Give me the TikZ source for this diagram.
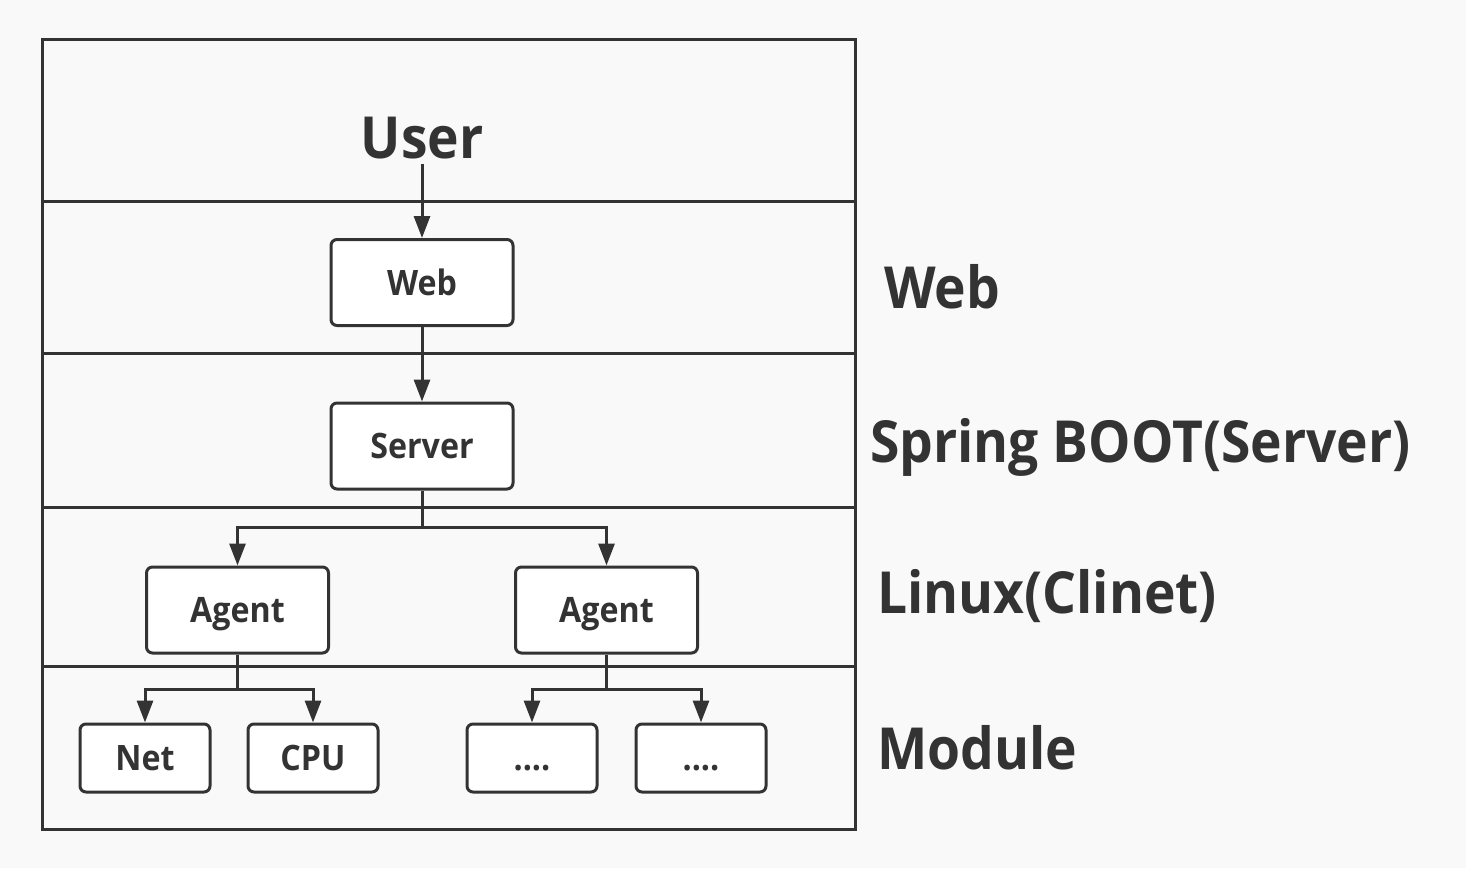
\documentclass[tikz,border=0pt]{standalone}
\usepackage{fontspec}
\setmainfont{Open Sans}[BoldFeatures={FakeStretch=0.92}]
\usetikzlibrary{arrows.meta}
\definecolor{ink}{HTML}{333333}
\definecolor{bg}{HTML}{F9F9F9}
\begin{document}
\begin{tikzpicture}[x=1pt,y=-1pt,
  frame/.style={draw=ink,line width=3pt},
  box/.style={draw=ink,fill=white,line width=3pt,rounded corners=6pt,inner sep=0pt,
    text height=25pt,text depth=0pt,font=\fontsize{35}{40}\selectfont\bfseries,text=ink},
  bigbox/.style={box,minimum width=182pt,minimum height=86pt},
  smallbox/.style={box,minimum width=130pt,minimum height=68pt},
  lbl/.style={inner sep=0pt,text=ink,font=\fontsize{58}{66}\selectfont\bfseries},
  arr/.style={draw=ink,line width=3pt,-{Triangle[length=22pt,width=16pt]}},
  ln/.style={draw=ink,line width=3pt}
]
\fill[bg] (0,0) rectangle (1466,868);
\useasboundingbox (0,0) rectangle (1466,868);
% frame
\draw[frame] (42,39) rectangle (855,829);
\draw[frame] (42,201) -- (855,201);
\draw[frame] (42,353) -- (855,353);
\draw[frame] (42,507) -- (855,507);
\draw[frame] (42,666) -- (855,666);
% user
\node[lbl,anchor=base] (user) at (422,158) {User};
% boxes
\node[bigbox] (web) at (422,282.5) {Web};
\node[bigbox] (server) at (422,446) {Server};
\node[bigbox] (a1) at (237.5,610) {Agent};
\node[bigbox] (a2) at (606.5,610) {Agent};
\node[smallbox] (net) at (145,758) {Net};
\node[smallbox] (cpu) at (313,758) {CPU};
\node[smallbox] (m3) at (532,758) {....};
\node[smallbox] (m4) at (701,758) {....};
% connectors
\draw[arr] ([yshift=-5pt]user.south) -- (web.north);
\draw[arr] (web.south) -- (server.north);
\draw[arr] (server.south) -- ([yshift=-37pt]server.south) -| (a1.north);
\draw[arr] ([yshift=-37pt]server.south) -| (a2.north);
\draw[arr] (a1.south) -- ([yshift=-35pt]a1.south) -| (net.north);
\draw[arr] ([yshift=-35pt]a1.south) -| (cpu.north);
\draw[arr] (a2.south) -- ([yshift=-35pt]a2.south) -| (m3.north);
\draw[arr] ([yshift=-35pt]a2.south) -| (m4.north);
% right labels
\node[lbl,anchor=base west] (lweb) at (884,308) {Web};
\node[lbl,anchor=base west] (lspring) at (870,462) {Spring BOOT(Server)};
\node[lbl,anchor=base west] (llinux) at (877,613) {Linux(Clinet)};
\node[lbl,anchor=base west] (lmod) at (877,769) {Module};
\end{tikzpicture}
\end{document}
